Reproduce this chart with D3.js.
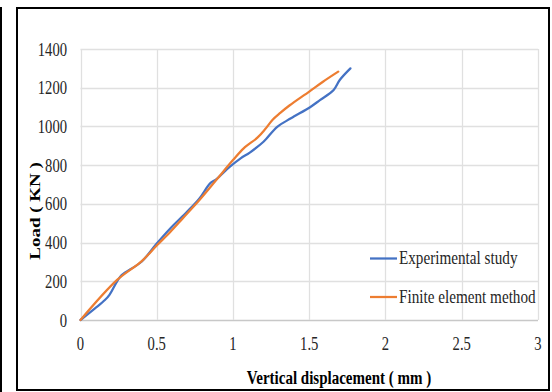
<!DOCTYPE html>
<html>
<head>
<meta charset="utf-8">
<script src="https://cdn.jsdelivr.net/npm/d3@7"></script>
<style>
  body { margin: 0; background: #fff; }
  svg { display: block; }
  text { font-family: "Liberation Serif", "Times New Roman", serif; fill: #262626; }
</style>
</head>
<body>
<svg id="chart" width="552" height="392"></svg>
<script>
// experimental study (blue)
const expDisp = [0, 0.095, 0.16, 0.19, 0.24, 0.27, 0.40, 0.50, 0.59, 0.70, 0.78, 0.85, 0.89, 0.98, 1.05, 1.11, 1.20, 1.29, 1.38, 1.51, 1.57, 1.66, 1.70, 1.77];
const expLoad = [0, 60, 103, 130, 200, 232, 301, 395, 474, 560, 628, 706, 727, 792, 835, 865, 921, 998, 1042, 1102, 1136, 1188, 1240, 1300];
// finite element method (orange)
const femDisp = [0, 0.24, 0.40, 0.50, 0.59, 0.67, 0.78, 0.89, 1.0, 1.07, 1.16, 1.21, 1.26, 1.31, 1.37, 1.50, 1.59, 1.69];
const femLoad = [0, 207, 303, 385, 456, 525, 620, 723, 826, 887, 942, 985, 1035, 1070, 1108, 1180, 1231, 1283];

const xTicks = [0, 0.5, 1, 1.5, 2, 2.5, 3];
const yTicks = [0, 200, 400, 600, 800, 1000, 1200, 1400];
const seriesNames = ["Experimental study", "Finite element method"];
const colors = ["#4472C4", "#ED7D31"];

const svg = d3.select("#chart");
const m = { left: 80.5, right: 14, top: 49, bottom: 72 };
const W = 552, H = 392;

const x = d3.scaleLinear().domain([0, 3]).range([m.left, W - m.right]);
const y = d3.scaleLinear().domain([0, 1400]).range([H - m.bottom, m.top]);

// frame
svg.append("rect")
  .attr("x", 17).attr("y", 8).attr("width", 532).attr("height", 382)
  .attr("fill", "none").attr("stroke", "#000").attr("stroke-width", 2);
svg.append("line")
  .attr("x1", 1).attr("x2", 1).attr("y1", 7).attr("y2", 392)
  .attr("stroke", "#000").attr("stroke-width", 2);

// grid
const grid = svg.append("g");
grid.selectAll(".hg").data(yTicks).join("line")
  .attr("x1", x(0)).attr("x2", x(3))
  .attr("y1", d => Math.round(y(d)) + 0.5).attr("y2", d => Math.round(y(d)) + 0.5)
  .attr("stroke", d => d === 0 ? "#c8c8c8" : "#e0e0e0").attr("stroke-width", 1.3);
grid.selectAll(".vg").data(xTicks).join("line")
  .attr("y1", y(0)).attr("y2", y(1400))
  .attr("x1", d => Math.round(x(d)) + 0.5).attr("x2", d => Math.round(x(d)) + 0.5)
  .attr("stroke", "#e0e0e0").attr("stroke-width", 1.3);

// tick labels (the source picture is squeezed sideways)
const sx = 0.77;
svg.append("g").selectAll("text").data(yTicks).join("text")
  .attr("transform", d => `translate(67,${y(d) + 6.5}) scale(${sx},1)`)
  .attr("text-anchor", "end")
  .style("font-size", "19px")
  .text(d => d);
svg.append("g").selectAll("text").data(xTicks).join("text")
  .attr("transform", d => `translate(${x(d)},350) scale(${sx},1)`)
  .attr("text-anchor", "middle")
  .style("font-size", "19px")
  .text(d => d);

// axis titles
svg.append("text")
  .attr("transform", `translate(339,384) scale(0.79,1)`)
  .attr("text-anchor", "middle")
  .style("font-size", "19px").style("font-weight", "bold")
  .style("fill", "#000")
  .text("Vertical displacement ( mm )");
svg.append("text")
  .attr("transform", `translate(40,211) rotate(-90) scale(1,${sx})`)
  .attr("text-anchor", "middle")
  .style("font-size", "19px").style("font-weight", "bold")
  .style("fill", "#000")
  .text("Load ( KN )");

// lines
const line = d3.line()
  .x(d => x(d[0])).y(d => y(d[1]))
  .curve(d3.curveCatmullRom.alpha(0.5));
const series = [
  d3.zip(expDisp, expLoad),
  d3.zip(femDisp, femLoad)
];
svg.append("g").selectAll("path").data(series).join("path")
  .attr("d", line)
  .attr("fill", "none")
  .attr("stroke", (d, i) => colors[i])
  .attr("stroke-width", 2.25)
  .attr("stroke-linejoin", "round")
  .attr("stroke-linecap", "round");

// legend
const leg = svg.append("g").selectAll("g").data(seriesNames).join("g")
  .attr("transform", (d, i) => `translate(370,${258.5 + i * 38.5})`);
leg.append("line")
  .attr("x1", 0).attr("x2", 27).attr("y1", 0).attr("y2", 0)
  .attr("stroke", (d, i) => colors[i]).attr("stroke-width", 2.25);
leg.append("text")
  .attr("transform", `translate(29,5.5) scale(0.8,1)`)
  .style("font-size", "19px")
  .text(d => d);
</script>
</body>
</html>
